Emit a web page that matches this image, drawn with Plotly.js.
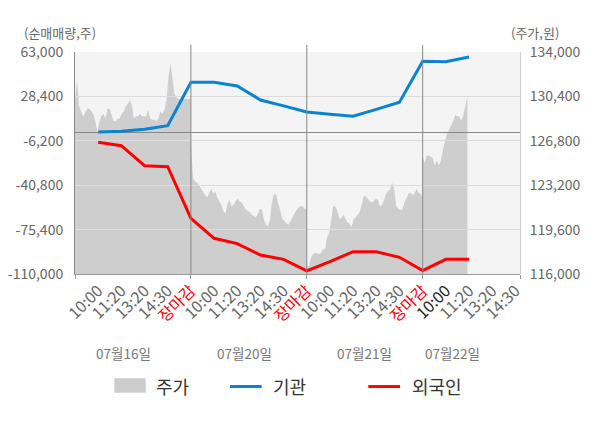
<!DOCTYPE html>
<html>
<head>
<meta charset="utf-8">
<script src="https://cdn.plot.ly/plotly-3.0.1.min.js"></script>
<style>
  body { margin: 0; background: #fff; }
  #chart { width: 600px; height: 428px; }
</style>
</head>
<body>
<div id="chart"></div>
<script>
// x축: 하루 = 5칸 (10:00, 11:20, 13:20, 14:30, 장마감)
var days = ['07월16일', '07월20일', '07월21일', '07월22일'];
var slotLabels = ['10:00', '11:20', '13:20', '14:30', '장마감'];
var dayLabelPos = [2.1, 7.3, 12.5, 16.3];

// 주가 (분 단위, 하루 58개 샘플)
var price0716 = [130100, 131700, 129600, 129200, 128800, 129100, 129400, 129400, 129200, 129000,
                 128400, 127500, 128400, 128800, 129000, 128600, 129400, 129400, 128900, 128400,
                 128400, 128600, 128600, 129000, 129200, 129600, 129800, 130100, 129600, 128600,
                 128800, 128800, 129000, 128800, 128800, 128800, 129300, 128600, 128500, 128500,
                 128400, 128600, 129200, 129000, 129300, 130100, 132000, 133100, 131700, 130600,
                 130300, 130200, 130100, 130200, 130200, 130200, 130200, 130200];
var price0720 = [127000, 123800, 123500, 123400, 123200, 122900, 122600, 122400, 122200, 122500,
                 122900, 122500, 122700, 122200, 121900, 121600, 121100, 120900, 121700, 122000,
                 121500, 121600, 121900, 122100, 121900, 121800, 121500, 121200, 121100, 121000,
                 120800, 120700, 120600, 120900, 121300, 121200, 120400, 120000, 119900, 120500,
                 122000, 122500, 122400, 121700, 121000, 120500, 120300, 120100, 120000, 120300,
                 120600, 121000, 121200, 121400, 121500, 121500, 121300, 121200];
var price0721 = [116600, 116600, 117300, 117600, 117700, 117700, 117600, 117700, 118000, 118000,
                 119000, 119300, 120600, 121500, 121500, 121100, 120500, 120500, 120800, 120500,
                 120200, 120100, 119800, 120400, 120600, 120800, 121000, 121600, 122300, 122300,
                 122100, 121900, 121800, 121900, 122100, 122000, 121500, 121600, 122000, 122500,
                 122700, 122900, 123400, 122900, 121500, 121300, 121200, 121200, 121800, 122200,
                 122500, 122600, 122400, 122500, 122900, 122600, 122500, 122200];
var price0722 = [125500, 125000, 125600, 125600, 125500, 125400, 124800, 125200, 124800, 125200,
                 126100, 126800, 127400, 127700, 128000, 128400, 128900, 128800, 128800, 128400,
                 128900, 129600, 130400];

// 순매매량 누적 (10:00 ~ 장마감, 마지막 날은 11:20까지)
var inst    = [700, 1200, 2800, 5600, 39400, 39400, 36500, 25600, 21000, 16200,
               14500, 12900, 18300, 23800, 55700, 55400, 59100];
var foreign = [-7400, -10000, -25600, -26400, -66600, -82200, -86300, -95200, -98600, -107500,
               -100400, -92600, -92600, -97000, -107400, -98600, -98600];

var leftTicks  = [63000, 28400, -6200, -40800, -75400, -110000];
var rightTicks = [134000, 130400, 126800, 123200, 119600, 116000];

var FONT = '"Noto Sans CJK KR", "Noto Sans", sans-serif';
var PER_DAY = 57;   // 하루 샘플 간격 수
var XMAX = 19.2;

function fmt(v) { return v.toLocaleString('en-US'); }

var px = [], py = [];
[price0716, price0720, price0721, price0722].forEach(function (arr, d) {
  arr.forEach(function (v, k) {
    px.push(d * 5 + k * 5 / PER_DAY);
    py.push(v);
  });
});

var lx = inst.map(function (v, i) { return i + 1; });

var tickVals = [], tickText = [];
days.forEach(function (d, di) {
  slotLabels.forEach(function (s, si) {
    var pos = di * 5 + si + 1;
    if (pos > XMAX) return;
    var t = s;
    if (s === '장마감') t = '<span style="color:#ff0000">' + s + '</span>';
    else if (di === days.length - 1 && si === 0) t = '<span style="color:#222">' + s + '</span>';
    tickVals.push(pos);
    tickText.push(t);
  });
});

var traces = [
  {
    name: '주가', type: 'scatter', mode: 'lines',
    x: px, y: py, xaxis: 'x', yaxis: 'y',
    line: { width: 0 }, fill: 'tozeroy', fillcolor: '#cecece',
    hoverinfo: 'skip'
  },
  {
    name: '기관', type: 'scatter', mode: 'lines',
    x: lx, y: inst, xaxis: 'x2', yaxis: 'y2',
    line: { color: '#0a84d0', width: 3 }
  },
  {
    name: '외국인', type: 'scatter', mode: 'lines',
    x: lx, y: foreign, xaxis: 'x2', yaxis: 'y2',
    line: { color: '#ff0000', width: 3 }
  }
];

var shapes = [
  { type: 'rect', xref: 'paper', yref: 'paper', x0: 0, x1: 1, y0: 0, y1: 1,
    fillcolor: '#f4f4f4', line: { width: 0 }, layer: 'below' }
];
[5, 10, 15].forEach(function (b) {
  shapes.push({ type: 'line', xref: 'x2', yref: 'paper', x0: b, x1: b, y0: 0, y1: 1.032,
                line: { color: '#888', width: 1 }, layer: 'above' });
});
// 범례
shapes.push({ type: 'rect', xref: 'paper', yref: 'paper', x0: 0.0883, x1: 0.1589, y0: -0.5347, y1: -0.4698,
              fillcolor: '#cccccc', line: { width: 0 } });
shapes.push({ type: 'line', xref: 'paper', yref: 'paper', x0: 0.3483, x1: 0.4196, y0: -0.507, y1: -0.507,
              line: { color: '#0a84d0', width: 3 } });
shapes.push({ type: 'line', xref: 'paper', yref: 'paper', x0: 0.6591, x1: 0.7303, y0: -0.507, y1: -0.507,
              line: { color: '#ff0000', width: 3 } });

var annotations = days.map(function (d, i) {
  return { text: d, xref: 'x2', yref: 'paper', x: dayLabelPos[i], y: -0.356,
           showarrow: false, xanchor: 'center', yanchor: 'middle',
           font: { size: 13.5, color: '#777', family: FONT } };
});
[['주가', 0.1775], ['기관', 0.4404], ['외국인', 0.7528]].forEach(function (l) {
  annotations.push({ text: l[0], xref: 'paper', yref: 'paper', x: l[1], y: -0.505,
                     showarrow: false, xanchor: 'left', yanchor: 'middle',
                     font: { size: 18, color: '#333', family: FONT } });
});
annotations.push({ text: '(순매매량,주)', xref: 'paper', yref: 'paper', x: -0.118, y: 1.086,
                   showarrow: false, xanchor: 'left', yanchor: 'middle',
                   font: { size: 13, color: '#666', family: FONT } });
annotations.push({ text: '(주가,원)', xref: 'paper', yref: 'paper', x: 0.975, y: 1.086,
                   showarrow: false, xanchor: 'left', yanchor: 'middle',
                   font: { size: 13, color: '#666', family: FONT } });

var layout = {
  width: 600, height: 428,
  margin: { l: 75, r: 80, t: 52, b: 154, pad: 0 },
  paper_bgcolor: '#ffffff',
  plot_bgcolor: 'rgba(0,0,0,0)',
  font: { family: FONT, size: 14, color: '#666' },
  showlegend: false,
  hovermode: false,
  xaxis: {
    domain: [0, 1], anchor: 'y', range: [0, XMAX],
    showline: false, showgrid: false, zeroline: false, showticklabels: false,
    ticks: 'outside', ticklen: 4, tickwidth: 1, tickcolor: '#999',
    tickmode: 'array', tickvals: [0, 5, 10, 15, XMAX]
  },
  yaxis: {
    domain: [0, 1], anchor: 'x', side: 'right', range: [116000, 134000],
    tickmode: 'array', tickvals: rightTicks, ticktext: rightTicks.map(fmt),
    showline: true, linecolor: '#ccc', linewidth: 1,
    showgrid: false, zeroline: false, ticks: '', ticklabelstandoff: 6,
    tickfont: { size: 14, color: '#666' }
  },
  xaxis2: {
    domain: [0, 1], anchor: 'y2', range: [0, XMAX],
    tickmode: 'array', tickvals: tickVals, ticktext: tickText, tickangle: -45,
    showline: true, linecolor: '#999', linewidth: 1,
    showgrid: false, zeroline: false, ticks: '',
    tickfont: { size: 16, color: '#666' }
  },
  yaxis2: {
    domain: [0, 1], anchor: 'x2', side: 'left', range: [-110000, 63000],
    tickmode: 'array', tickvals: leftTicks, ticktext: leftTicks.map(fmt),
    showline: true, linecolor: '#888', linewidth: 1,
    showgrid: true, gridcolor: '#dddddd', gridwidth: 1,
    zeroline: true, zerolinecolor: '#888', zerolinewidth: 1,
    ticks: '', ticklabelstandoff: 8,
    tickfont: { size: 14, color: '#666' }
  },
  shapes: shapes,
  annotations: annotations
};

Plotly.newPlot('chart', traces, layout, { displayModeBar: false, staticPlot: true });
</script>
</body>
</html>
